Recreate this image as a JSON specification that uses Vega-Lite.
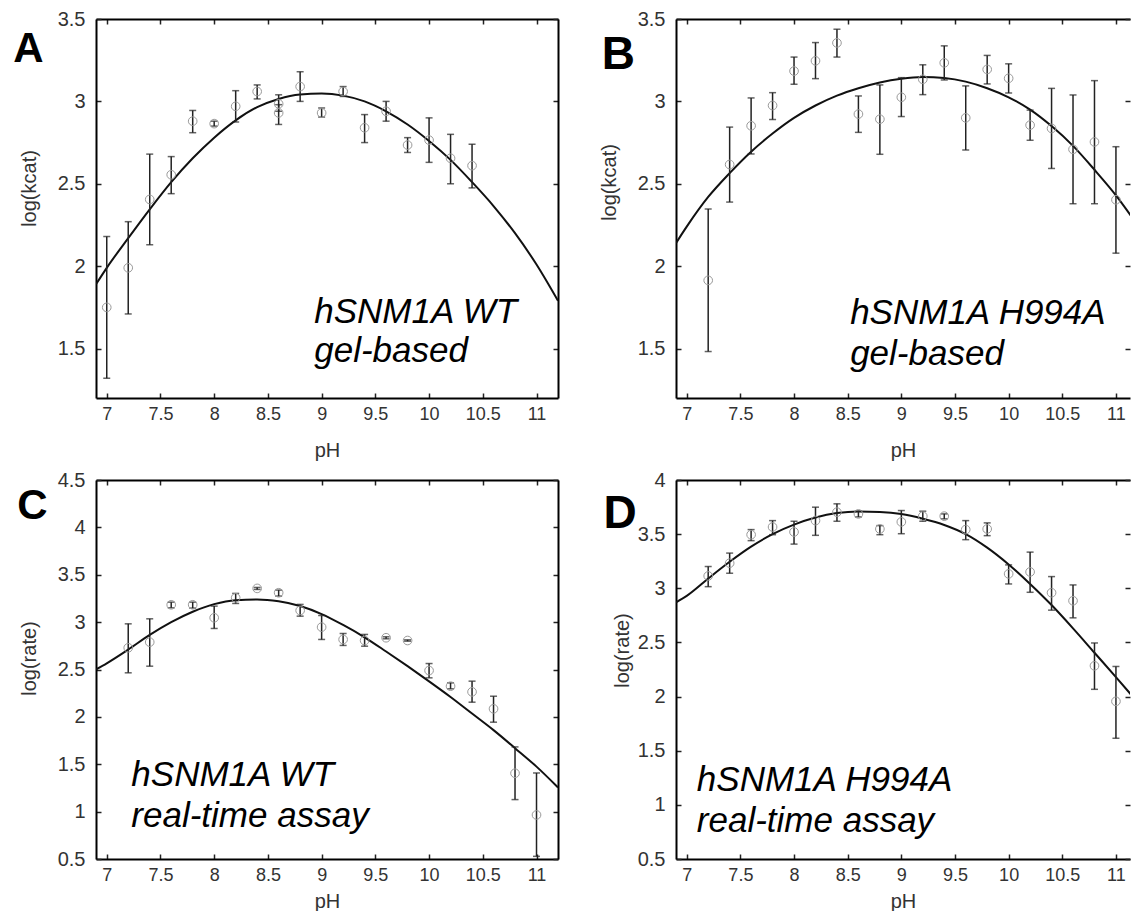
{
  "$schema": "https://vega.github.io/schema/vega-lite/v6.json",
  "background": "white",
  "padding": {"left": 13, "top": 9, "right": 0, "bottom": 0},
  "columns": 2,
  "spacing": {"row": 82, "column": 118},
  "bounds": "flush",
  "config": {
    "font": "Liberation Sans",
    "view": {"stroke": null},
    "axis": {
      "grid": false, "domainColor": "#000", "domainWidth": 2, "tickColor": "#222", "tickWidth": 1.5, "tickSize": -5,
      "labelFont": "Liberation Sans", "labelFontSize": 18, "labelColor": "#333", "labelFlush": false, "labelOverlap": false,
      "titleFont": "Liberation Sans", "titleFontSize": 20, "titleFontWeight": "normal", "titleColor": "#333"
    }
  },
  "datasets": {
    "pts": [
      {"panel":"A","pH":7.0,"value":1.75,"lo":1.32,"hi":2.18},
      {"panel":"A","pH":7.2,"value":1.99,"lo":1.71,"hi":2.27},
      {"panel":"A","pH":7.4,"value":2.405,"lo":2.13,"hi":2.68},
      {"panel":"A","pH":7.6,"value":2.555,"lo":2.44,"hi":2.665},
      {"panel":"A","pH":7.8,"value":2.88,"lo":2.81,"hi":2.945},
      {"panel":"A","pH":8.0,"value":2.865,"lo":2.85,"hi":2.88},
      {"panel":"A","pH":8.2,"value":2.97,"lo":2.875,"hi":3.065},
      {"panel":"A","pH":8.4,"value":3.06,"lo":3.015,"hi":3.1},
      {"panel":"A","pH":8.6,"value":2.985,"lo":2.94,"hi":3.04},
      {"panel":"A","pH":8.6,"value":2.93,"lo":2.86,"hi":2.98},
      {"panel":"A","pH":8.8,"value":3.09,"lo":3.0,"hi":3.18},
      {"panel":"A","pH":9.0,"value":2.93,"lo":2.905,"hi":2.96},
      {"panel":"A","pH":9.2,"value":3.06,"lo":3.03,"hi":3.09},
      {"panel":"A","pH":9.4,"value":2.84,"lo":2.75,"hi":2.92},
      {"panel":"A","pH":9.6,"value":2.94,"lo":2.88,"hi":3.0},
      {"panel":"A","pH":9.8,"value":2.735,"lo":2.69,"hi":2.78},
      {"panel":"A","pH":10.0,"value":2.765,"lo":2.63,"hi":2.9},
      {"panel":"A","pH":10.2,"value":2.655,"lo":2.5,"hi":2.8},
      {"panel":"A","pH":10.4,"value":2.61,"lo":2.475,"hi":2.74},

      {"panel":"B","pH":7.2,"value":1.914,"lo":1.482,"hi":2.347},
      {"panel":"B","pH":7.4,"value":2.617,"lo":2.389,"hi":2.844},
      {"panel":"B","pH":7.6,"value":2.852,"lo":2.681,"hi":3.021},
      {"panel":"B","pH":7.8,"value":2.975,"lo":2.89,"hi":3.053},
      {"panel":"B","pH":8.0,"value":3.184,"lo":3.104,"hi":3.269},
      {"panel":"B","pH":8.2,"value":3.246,"lo":3.138,"hi":3.357},
      {"panel":"B","pH":8.4,"value":3.355,"lo":3.269,"hi":3.438},
      {"panel":"B","pH":8.6,"value":2.923,"lo":2.812,"hi":3.033},
      {"panel":"B","pH":8.8,"value":2.892,"lo":2.679,"hi":3.1},
      {"panel":"B","pH":9.0,"value":3.025,"lo":2.908,"hi":3.144},
      {"panel":"B","pH":9.2,"value":3.134,"lo":3.041,"hi":3.222},
      {"panel":"B","pH":9.4,"value":3.234,"lo":3.13,"hi":3.337},
      {"panel":"B","pH":9.6,"value":2.9,"lo":2.705,"hi":3.094},
      {"panel":"B","pH":9.8,"value":3.194,"lo":3.106,"hi":3.279},
      {"panel":"B","pH":10.0,"value":3.14,"lo":3.051,"hi":3.228},
      {"panel":"B","pH":10.2,"value":2.856,"lo":2.764,"hi":2.947},
      {"panel":"B","pH":10.4,"value":2.836,"lo":2.593,"hi":3.079},
      {"panel":"B","pH":10.6,"value":2.709,"lo":2.379,"hi":3.039},
      {"panel":"B","pH":10.8,"value":2.754,"lo":2.379,"hi":3.126},
      {"panel":"B","pH":11.0,"value":2.403,"lo":2.079,"hi":2.725},

      {"panel":"C","pH":7.2,"value":2.729,"lo":2.465,"hi":2.982},
      {"panel":"C","pH":7.4,"value":2.789,"lo":2.535,"hi":3.035},
      {"panel":"C","pH":7.6,"value":3.183,"lo":3.151,"hi":3.211},
      {"panel":"C","pH":7.8,"value":3.183,"lo":3.148,"hi":3.211},
      {"panel":"C","pH":8.0,"value":3.046,"lo":2.933,"hi":3.169},
      {"panel":"C","pH":8.2,"value":3.257,"lo":3.197,"hi":3.303},
      {"panel":"C","pH":8.4,"value":3.356,"lo":3.345,"hi":3.366},
      {"panel":"C","pH":8.6,"value":3.31,"lo":3.275,"hi":3.338},
      {"panel":"C","pH":8.8,"value":3.123,"lo":3.063,"hi":3.187},
      {"panel":"C","pH":9.0,"value":2.947,"lo":2.817,"hi":3.07},
      {"panel":"C","pH":9.2,"value":2.817,"lo":2.754,"hi":2.88},
      {"panel":"C","pH":9.4,"value":2.806,"lo":2.746,"hi":2.87},
      {"panel":"C","pH":9.6,"value":2.835,"lo":2.824,"hi":2.845},
      {"panel":"C","pH":9.8,"value":2.806,"lo":2.799,"hi":2.813},
      {"panel":"C","pH":10.0,"value":2.489,"lo":2.412,"hi":2.563},
      {"panel":"C","pH":10.2,"value":2.324,"lo":2.296,"hi":2.359},
      {"panel":"C","pH":10.4,"value":2.264,"lo":2.155,"hi":2.377},
      {"panel":"C","pH":10.6,"value":2.085,"lo":1.944,"hi":2.218},
      {"panel":"C","pH":10.8,"value":1.405,"lo":1.127,"hi":1.683},
      {"panel":"C","pH":11.0,"value":0.965,"lo":0.528,"hi":1.408},

      {"panel":"D","pH":7.2,"value":3.114,"lo":3.015,"hi":3.201},
      {"panel":"D","pH":7.4,"value":3.232,"lo":3.139,"hi":3.325},
      {"panel":"D","pH":7.6,"value":3.495,"lo":3.44,"hi":3.542},
      {"panel":"D","pH":7.8,"value":3.566,"lo":3.495,"hi":3.625},
      {"panel":"D","pH":8.0,"value":3.52,"lo":3.408,"hi":3.619},
      {"panel":"D","pH":8.2,"value":3.625,"lo":3.489,"hi":3.749},
      {"panel":"D","pH":8.4,"value":3.703,"lo":3.619,"hi":3.78},
      {"panel":"D","pH":8.6,"value":3.687,"lo":3.659,"hi":3.712},
      {"panel":"D","pH":8.8,"value":3.548,"lo":3.495,"hi":3.579},
      {"panel":"D","pH":9.0,"value":3.613,"lo":3.504,"hi":3.718},
      {"panel":"D","pH":9.2,"value":3.666,"lo":3.619,"hi":3.712},
      {"panel":"D","pH":9.4,"value":3.666,"lo":3.641,"hi":3.687},
      {"panel":"D","pH":9.6,"value":3.542,"lo":3.449,"hi":3.625},
      {"panel":"D","pH":9.8,"value":3.548,"lo":3.486,"hi":3.604},
      {"panel":"D","pH":10.0,"value":3.133,"lo":3.04,"hi":3.216},
      {"panel":"D","pH":10.2,"value":3.151,"lo":2.963,"hi":3.334},
      {"panel":"D","pH":10.4,"value":2.959,"lo":2.798,"hi":3.108},
      {"panel":"D","pH":10.6,"value":2.885,"lo":2.727,"hi":3.031},
      {"panel":"D","pH":10.8,"value":2.284,"lo":2.067,"hi":2.495},
      {"panel":"D","pH":11.0,"value":1.956,"lo":1.615,"hi":2.278}
    ],
    "fit": [
      {"panel":"A","pH":6.9,"value":1.89},{"panel":"A","pH":7.0,"value":1.99},{"panel":"A","pH":7.2,"value":2.17},{"panel":"A","pH":7.4,"value":2.345},{"panel":"A","pH":7.6,"value":2.51},{"panel":"A","pH":7.8,"value":2.655},{"panel":"A","pH":8.0,"value":2.78},{"panel":"A","pH":8.2,"value":2.885},{"panel":"A","pH":8.4,"value":2.965},{"panel":"A","pH":8.6,"value":3.015},{"panel":"A","pH":8.8,"value":3.042},{"panel":"A","pH":9.0,"value":3.048},{"panel":"A","pH":9.2,"value":3.035},{"panel":"A","pH":9.4,"value":3.0},{"panel":"A","pH":9.6,"value":2.94},{"panel":"A","pH":9.8,"value":2.86},{"panel":"A","pH":10.0,"value":2.76},{"panel":"A","pH":10.2,"value":2.645},{"panel":"A","pH":10.4,"value":2.51},{"panel":"A","pH":10.6,"value":2.365},{"panel":"A","pH":10.8,"value":2.2},{"panel":"A","pH":11.0,"value":2.01},{"panel":"A","pH":11.2,"value":1.79},
      {"panel":"B","pH":6.9,"value":2.14},{"panel":"B","pH":7.0,"value":2.24},{"panel":"B","pH":7.2,"value":2.42},{"panel":"B","pH":7.4,"value":2.565},{"panel":"B","pH":7.6,"value":2.695},{"panel":"B","pH":7.8,"value":2.805},{"panel":"B","pH":8.0,"value":2.9},{"panel":"B","pH":8.2,"value":2.975},{"panel":"B","pH":8.4,"value":3.035},{"panel":"B","pH":8.6,"value":3.08},{"panel":"B","pH":8.8,"value":3.115},{"panel":"B","pH":9.0,"value":3.138},{"panel":"B","pH":9.2,"value":3.148},{"panel":"B","pH":9.4,"value":3.142},{"panel":"B","pH":9.6,"value":3.12},{"panel":"B","pH":9.8,"value":3.08},{"panel":"B","pH":10.0,"value":3.025},{"panel":"B","pH":10.2,"value":2.95},{"panel":"B","pH":10.4,"value":2.85},{"panel":"B","pH":10.6,"value":2.73},{"panel":"B","pH":10.8,"value":2.585},{"panel":"B","pH":11.0,"value":2.43},{"panel":"B","pH":11.2,"value":2.25},
      {"panel":"C","pH":6.9,"value":2.5},{"panel":"C","pH":7.0,"value":2.565},{"panel":"C","pH":7.2,"value":2.71},{"panel":"C","pH":7.4,"value":2.865},{"panel":"C","pH":7.6,"value":3.0},{"panel":"C","pH":7.8,"value":3.11},{"panel":"C","pH":8.0,"value":3.19},{"panel":"C","pH":8.2,"value":3.232},{"panel":"C","pH":8.4,"value":3.24},{"panel":"C","pH":8.6,"value":3.22},{"panel":"C","pH":8.8,"value":3.17},{"panel":"C","pH":9.0,"value":3.085},{"panel":"C","pH":9.2,"value":2.97},{"panel":"C","pH":9.4,"value":2.84},{"panel":"C","pH":9.6,"value":2.69},{"panel":"C","pH":9.8,"value":2.535},{"panel":"C","pH":10.0,"value":2.375},{"panel":"C","pH":10.2,"value":2.21},{"panel":"C","pH":10.4,"value":2.035},{"panel":"C","pH":10.6,"value":1.86},{"panel":"C","pH":10.8,"value":1.67},{"panel":"C","pH":11.0,"value":1.475},{"panel":"C","pH":11.2,"value":1.255},
      {"panel":"D","pH":6.9,"value":2.87},{"panel":"D","pH":7.0,"value":2.93},{"panel":"D","pH":7.2,"value":3.09},{"panel":"D","pH":7.4,"value":3.245},{"panel":"D","pH":7.6,"value":3.385},{"panel":"D","pH":7.8,"value":3.5},{"panel":"D","pH":8.0,"value":3.588},{"panel":"D","pH":8.2,"value":3.653},{"panel":"D","pH":8.4,"value":3.695},{"panel":"D","pH":8.6,"value":3.71},{"panel":"D","pH":8.8,"value":3.705},{"panel":"D","pH":9.0,"value":3.685},{"panel":"D","pH":9.2,"value":3.642},{"panel":"D","pH":9.4,"value":3.585},{"panel":"D","pH":9.6,"value":3.5},{"panel":"D","pH":9.8,"value":3.375},{"panel":"D","pH":10.0,"value":3.22},{"panel":"D","pH":10.2,"value":3.04},{"panel":"D","pH":10.4,"value":2.845},{"panel":"D","pH":10.6,"value":2.63},{"panel":"D","pH":10.8,"value":2.405},{"panel":"D","pH":11.0,"value":2.18},{"panel":"D","pH":11.2,"value":1.95}
    ]
  },
  "concat": [
    {
      "width": 462, "height": 379,
      "resolve": {"axis": {"x": "independent", "y": "independent"}},
      "layer": [
        {"data": {"name": "fit"}, "transform": [{"filter": "datum.panel == 'A'"}],
         "mark": {"type": "line", "clip": true, "color": "#111", "strokeWidth": 2, "interpolate": "monotone"},
         "encoding": {
           "x": {"field": "pH", "type": "quantitative", "scale": {"domain": [6.9, 11.2], "nice": false, "zero": false},
                 "axis": {"orient": "bottom", "values": [7,7.5,8,8.5,9,9.5,10,10.5,11], "format": "~g", "labelFontSize": 18, "labelPadding": 12, "title": "pH", "titleFontSize": 20, "titleY": 52, "titleBaseline": "middle", "titleAlign": "center"}},
           "y": {"field": "value", "type": "quantitative", "scale": {"domain": [1.2, 3.5], "nice": false, "zero": false},
                 "axis": {"orient": "left", "values": [1.5,2,2.5,3,3.5], "format": "~g", "labelFontSize": 20, "labelPadding": 16, "title": "log(kcat)", "titleFontSize": 20, "titleX": -67, "titleY": 169, "titleBaseline": "middle", "titleAlign": "center", "titleAngle": 270}}
         }},
        {"data": {"name": "pts"}, "transform": [{"filter": "datum.panel == 'A'"}],
         "mark": {"type": "rule", "color": "#222", "strokeWidth": 1.5},
         "encoding": {
           "x": {"field": "pH", "type": "quantitative", "scale": {"domain": [6.9, 11.2], "nice": false, "zero": false},
                 "axis": {"orient": "top", "values": [7,7.5,8,8.5,9,9.5,10,10.5,11], "labels": false, "title": null}},
           "y": {"field": "lo", "type": "quantitative", "scale": {"domain": [1.2, 3.5], "nice": false, "zero": false},
                 "axis": {"orient": "right", "values": [1.5,2,2.5,3,3.5], "labels": false, "title": null}},
           "y2": {"field": "hi"}
         }},
        {"data": {"name": "pts"}, "transform": [{"filter": "datum.panel == 'A'"}],
         "mark": {"type": "tick", "orient": "horizontal", "size": 7, "thickness": 1.5, "color": "#222"},
         "encoding": {"x": {"field": "pH", "type": "quantitative", "axis": null}, "y": {"field": "lo", "type": "quantitative", "axis": null}}},
        {"data": {"name": "pts"}, "transform": [{"filter": "datum.panel == 'A'"}],
         "mark": {"type": "tick", "orient": "horizontal", "size": 7, "thickness": 1.5, "color": "#222"},
         "encoding": {"x": {"field": "pH", "type": "quantitative", "axis": null}, "y": {"field": "hi", "type": "quantitative", "axis": null}}},
        {"data": {"name": "pts"}, "transform": [{"filter": "datum.panel == 'A'"}],
         "mark": {"type": "point", "filled": false, "color": "#999", "size": 75, "strokeWidth": 1, "opacity": 1, "clip": true},
         "encoding": {"x": {"field": "pH", "type": "quantitative", "axis": null}, "y": {"field": "value", "type": "quantitative", "axis": null}}},
        {"data": {"values": [{}]},
         "mark": {"type": "text", "align": "left", "baseline": "alphabetic", "fontSize": 35, "fontStyle": "italic", "lineHeight": 39, "color": "#000"},
         "encoding": {"x": {"datum": 8.931, "type": "quantitative", "axis": null}, "y": {"datum": 1.655, "type": "quantitative", "axis": null}, "text": {"value": ["hSNM1A WT", "gel-based"]}}},
        {"data": {"values": [{}]},
         "mark": {"type": "text", "align": "left", "baseline": "alphabetic", "fontSize": 42, "fontWeight": "bold", "color": "#000"},
         "encoding": {"x": {"datum": 6.129, "type": "quantitative", "axis": null}, "y": {"datum": 3.239, "type": "quantitative", "axis": null}, "text": {"value": "A"}}}
      ]
    },
    {
      "width": 454, "height": 379,
      "resolve": {"axis": {"x": "independent", "y": "independent"}},
      "layer": [
        {"data": {"name": "fit"}, "transform": [{"filter": "datum.panel == 'B'"}],
         "mark": {"type": "line", "clip": true, "color": "#111", "strokeWidth": 2, "interpolate": "monotone"},
         "encoding": {
           "x": {"field": "pH", "type": "quantitative", "scale": {"domain": [6.9, 11.131], "nice": false, "zero": false},
                 "axis": {"orient": "bottom", "values": [7,7.5,8,8.5,9,9.5,10,10.5,11], "format": "~g", "labelFontSize": 18, "labelPadding": 12, "title": "pH", "titleFontSize": 20, "titleY": 52, "titleBaseline": "middle", "titleAlign": "center"}},
           "y": {"field": "value", "type": "quantitative", "scale": {"domain": [1.2, 3.5], "nice": false, "zero": false},
                 "axis": {"orient": "left", "values": [1.5,2,2.5,3,3.5], "format": "~g", "labelFontSize": 20, "labelPadding": 16, "title": "log(kcat)", "titleFontSize": 20, "titleX": -67, "titleY": 163, "titleBaseline": "middle", "titleAlign": "center", "titleAngle": 270}}
         }},
        {"data": {"name": "pts"}, "transform": [{"filter": "datum.panel == 'B'"}],
         "mark": {"type": "rule", "color": "#222", "strokeWidth": 1.5},
         "encoding": {
           "x": {"field": "pH", "type": "quantitative", "scale": {"domain": [6.9, 11.131], "nice": false, "zero": false},
                 "axis": {"orient": "top", "values": [7,7.5,8,8.5,9,9.5,10,10.5,11], "labels": false, "title": null}},
           "y": {"field": "lo", "type": "quantitative", "scale": {"domain": [1.2, 3.5], "nice": false, "zero": false},
                 "axis": {"orient": "right", "values": [1.5,2,2.5,3,3.5], "labels": false, "title": null, "domain": false}},
           "y2": {"field": "hi"}
         }},
        {"data": {"name": "pts"}, "transform": [{"filter": "datum.panel == 'B'"}],
         "mark": {"type": "tick", "orient": "horizontal", "size": 7, "thickness": 1.5, "color": "#222"},
         "encoding": {"x": {"field": "pH", "type": "quantitative", "axis": null}, "y": {"field": "lo", "type": "quantitative", "axis": null}}},
        {"data": {"name": "pts"}, "transform": [{"filter": "datum.panel == 'B'"}],
         "mark": {"type": "tick", "orient": "horizontal", "size": 7, "thickness": 1.5, "color": "#222"},
         "encoding": {"x": {"field": "pH", "type": "quantitative", "axis": null}, "y": {"field": "hi", "type": "quantitative", "axis": null}}},
        {"data": {"name": "pts"}, "transform": [{"filter": "datum.panel == 'B'"}],
         "mark": {"type": "point", "filled": false, "color": "#999", "size": 75, "strokeWidth": 1, "opacity": 1, "clip": true},
         "encoding": {"x": {"field": "pH", "type": "quantitative", "axis": null}, "y": {"field": "value", "type": "quantitative", "axis": null}}},
        {"data": {"values": [{}]},
         "mark": {"type": "text", "align": "left", "baseline": "alphabetic", "fontSize": 35, "fontStyle": "italic", "lineHeight": 41, "color": "#000"},
         "encoding": {"x": {"datum": 8.523, "type": "quantitative", "axis": null}, "y": {"datum": 1.647, "type": "quantitative", "axis": null}, "text": {"value": ["hSNM1A H994A", "gel-based"]}}},
        {"data": {"values": [{}]},
         "mark": {"type": "text", "align": "left", "baseline": "alphabetic", "fontSize": 46, "fontWeight": "bold", "color": "#000"},
         "encoding": {"x": {"datum": 6.207, "type": "quantitative", "axis": null}, "y": {"datum": 3.198, "type": "quantitative", "axis": null}, "text": {"value": "B"}}}
      ]
    },
    {
      "width": 462, "height": 379,
      "resolve": {"axis": {"x": "independent", "y": "independent"}},
      "layer": [
        {"data": {"name": "fit"}, "transform": [{"filter": "datum.panel == 'C'"}],
         "mark": {"type": "line", "clip": true, "color": "#111", "strokeWidth": 2, "interpolate": "monotone"},
         "encoding": {
           "x": {"field": "pH", "type": "quantitative", "scale": {"domain": [6.9, 11.2], "nice": false, "zero": false},
                 "axis": {"orient": "bottom", "values": [7,7.5,8,8.5,9,9.5,10,10.5,11], "format": "~g", "labelFontSize": 18, "labelPadding": 12, "title": "pH", "titleFontSize": 20, "titleY": 42, "titleBaseline": "middle", "titleAlign": "center"}},
           "y": {"field": "value", "type": "quantitative", "scale": {"domain": [0.5, 4.5], "nice": false, "zero": false},
                 "axis": {"orient": "left", "values": [0.5,1,1.5,2,2.5,3,3.5,4,4.5], "format": "~g", "labelFontSize": 20, "labelPadding": 16, "title": "log(rate)", "titleFontSize": 20, "titleX": -67, "titleY": 178, "titleBaseline": "middle", "titleAlign": "center", "titleAngle": 270}}
         }},
        {"data": {"name": "pts"}, "transform": [{"filter": "datum.panel == 'C'"}],
         "mark": {"type": "rule", "color": "#222", "strokeWidth": 1.5},
         "encoding": {
           "x": {"field": "pH", "type": "quantitative", "scale": {"domain": [6.9, 11.2], "nice": false, "zero": false},
                 "axis": {"orient": "top", "values": [7,7.5,8,8.5,9,9.5,10,10.5,11], "labels": false, "title": null}},
           "y": {"field": "lo", "type": "quantitative", "scale": {"domain": [0.5, 4.5], "nice": false, "zero": false},
                 "axis": {"orient": "right", "values": [0.5,1,1.5,2,2.5,3,3.5,4,4.5], "labels": false, "title": null}},
           "y2": {"field": "hi"}
         }},
        {"data": {"name": "pts"}, "transform": [{"filter": "datum.panel == 'C'"}],
         "mark": {"type": "tick", "orient": "horizontal", "size": 7, "thickness": 1.5, "color": "#222"},
         "encoding": {"x": {"field": "pH", "type": "quantitative", "axis": null}, "y": {"field": "lo", "type": "quantitative", "axis": null}}},
        {"data": {"name": "pts"}, "transform": [{"filter": "datum.panel == 'C'"}],
         "mark": {"type": "tick", "orient": "horizontal", "size": 7, "thickness": 1.5, "color": "#222"},
         "encoding": {"x": {"field": "pH", "type": "quantitative", "axis": null}, "y": {"field": "hi", "type": "quantitative", "axis": null}}},
        {"data": {"name": "pts"}, "transform": [{"filter": "datum.panel == 'C'"}],
         "mark": {"type": "point", "filled": false, "color": "#999", "size": 75, "strokeWidth": 1, "opacity": 1, "clip": true},
         "encoding": {"x": {"field": "pH", "type": "quantitative", "axis": null}, "y": {"field": "value", "type": "quantitative", "axis": null}}},
        {"data": {"values": [{}]},
         "mark": {"type": "text", "align": "left", "baseline": "alphabetic", "fontSize": 35, "fontStyle": "italic", "lineHeight": 41, "color": "#000"},
         "encoding": {"x": {"datum": 7.229, "type": "quantitative", "axis": null}, "y": {"datum": 1.275, "type": "quantitative", "axis": null}, "text": {"value": ["hSNM1A WT", "real-time assay"]}}},
        {"data": {"values": [{}]},
         "mark": {"type": "text", "align": "left", "baseline": "alphabetic", "fontSize": 42, "fontWeight": "bold", "color": "#000"},
         "encoding": {"x": {"datum": 6.168, "type": "quantitative", "axis": null}, "y": {"datum": 4.085, "type": "quantitative", "axis": null}, "text": {"value": "C"}}}
      ]
    },
    {
      "width": 454, "height": 379,
      "resolve": {"axis": {"x": "independent", "y": "independent"}},
      "layer": [
        {"data": {"name": "fit"}, "transform": [{"filter": "datum.panel == 'D'"}],
         "mark": {"type": "line", "clip": true, "color": "#111", "strokeWidth": 2, "interpolate": "monotone"},
         "encoding": {
           "x": {"field": "pH", "type": "quantitative", "scale": {"domain": [6.9, 11.131], "nice": false, "zero": false},
                 "axis": {"orient": "bottom", "values": [7,7.5,8,8.5,9,9.5,10,10.5,11], "format": "~g", "labelFontSize": 18, "labelPadding": 12, "title": "pH", "titleFontSize": 20, "titleY": 42, "titleBaseline": "middle", "titleAlign": "center"}},
           "y": {"field": "value", "type": "quantitative", "scale": {"domain": [0.5, 4], "nice": false, "zero": false},
                 "axis": {"orient": "left", "values": [0.5,1,1.5,2,2.5,3,3.5,4], "format": "~g", "labelFontSize": 20, "labelPadding": 16, "title": "log(rate)", "titleFontSize": 20, "titleX": -54, "titleY": 170, "titleBaseline": "middle", "titleAlign": "center", "titleAngle": 270}}
         }},
        {"data": {"name": "pts"}, "transform": [{"filter": "datum.panel == 'D'"}],
         "mark": {"type": "rule", "color": "#222", "strokeWidth": 1.5},
         "encoding": {
           "x": {"field": "pH", "type": "quantitative", "scale": {"domain": [6.9, 11.131], "nice": false, "zero": false},
                 "axis": {"orient": "top", "values": [7,7.5,8,8.5,9,9.5,10,10.5,11], "labels": false, "title": null}},
           "y": {"field": "lo", "type": "quantitative", "scale": {"domain": [0.5, 4], "nice": false, "zero": false},
                 "axis": {"orient": "right", "values": [0.5,1,1.5,2,2.5,3,3.5,4], "labels": false, "title": null, "domain": false}},
           "y2": {"field": "hi"}
         }},
        {"data": {"name": "pts"}, "transform": [{"filter": "datum.panel == 'D'"}],
         "mark": {"type": "tick", "orient": "horizontal", "size": 7, "thickness": 1.5, "color": "#222"},
         "encoding": {"x": {"field": "pH", "type": "quantitative", "axis": null}, "y": {"field": "lo", "type": "quantitative", "axis": null}}},
        {"data": {"name": "pts"}, "transform": [{"filter": "datum.panel == 'D'"}],
         "mark": {"type": "tick", "orient": "horizontal", "size": 7, "thickness": 1.5, "color": "#222"},
         "encoding": {"x": {"field": "pH", "type": "quantitative", "axis": null}, "y": {"field": "hi", "type": "quantitative", "axis": null}}},
        {"data": {"name": "pts"}, "transform": [{"filter": "datum.panel == 'D'"}],
         "mark": {"type": "point", "filled": false, "color": "#999", "size": 75, "strokeWidth": 1, "opacity": 1, "clip": true},
         "encoding": {"x": {"field": "pH", "type": "quantitative", "axis": null}, "y": {"field": "value", "type": "quantitative", "axis": null}}},
        {"data": {"values": [{}]},
         "mark": {"type": "text", "align": "left", "baseline": "alphabetic", "fontSize": 35, "fontStyle": "italic", "lineHeight": 41, "color": "#000"},
         "encoding": {"x": {"datum": 7.094, "type": "quantitative", "axis": null}, "y": {"datum": 1.124, "type": "quantitative", "axis": null}, "text": {"value": ["hSNM1A H994A", "real-time assay"]}}},
        {"data": {"values": [{}]},
         "mark": {"type": "text", "align": "left", "baseline": "alphabetic", "fontSize": 46, "fontWeight": "bold", "color": "#000"},
         "encoding": {"x": {"datum": 6.224, "type": "quantitative", "axis": null}, "y": {"datum": 3.557, "type": "quantitative", "axis": null}, "text": {"value": "D"}}}
      ]
    }
  ]
}
